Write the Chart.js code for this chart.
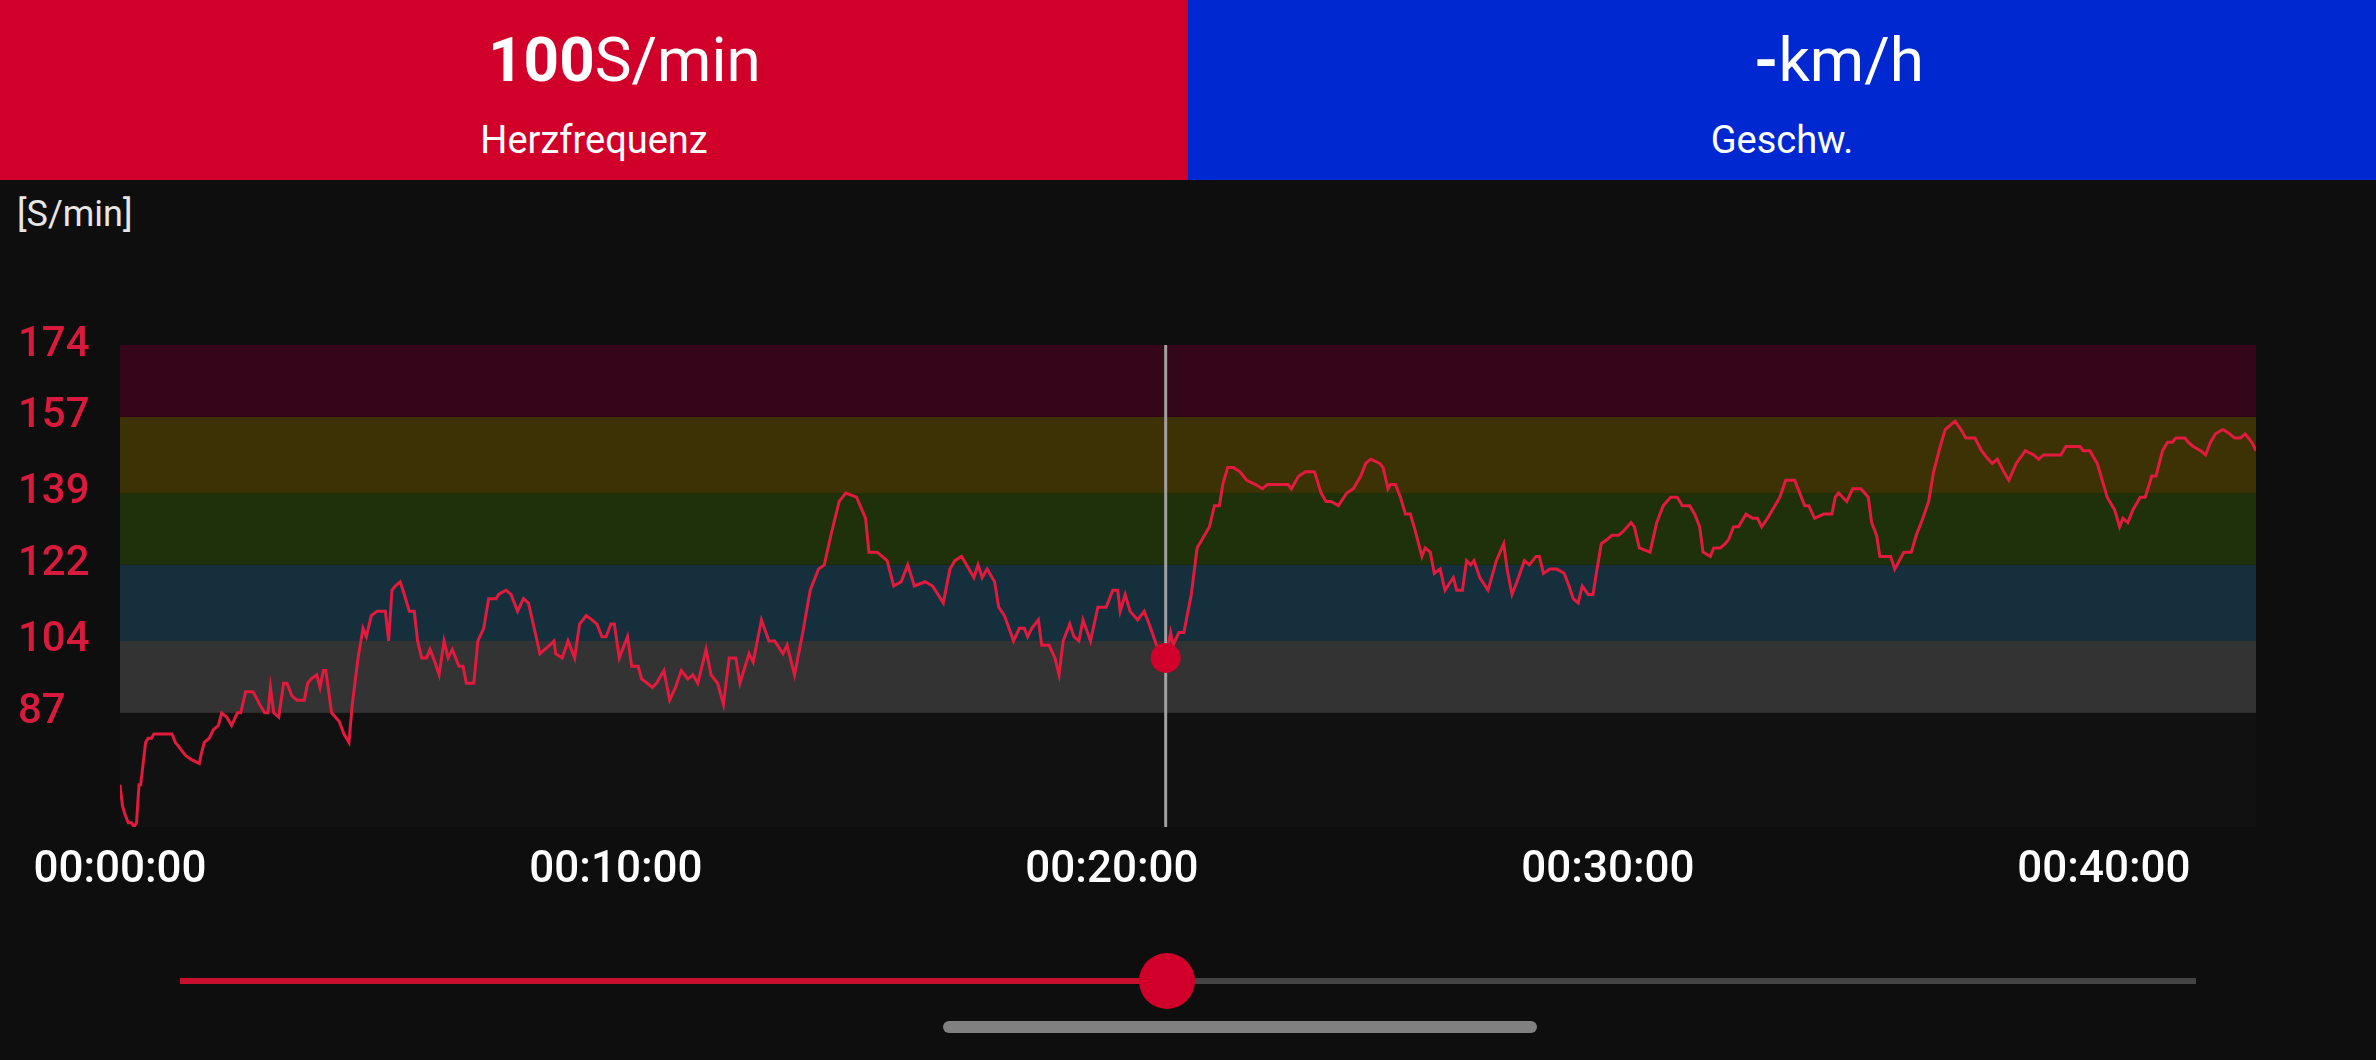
<!DOCTYPE html>
<html>
<head>
<meta charset="utf-8">
<title>Herzfrequenz</title>
<script src="https://cdn.jsdelivr.net/npm/chart.js@4.4.1/dist/chart.umd.min.js"></script>
<style>
  html, body { margin: 0; padding: 0; background: #0e0e0e; width: 2376px; height: 1060px; overflow: hidden; font-family: Roboto, "Noto Sans", sans-serif; }
  .panel { position: absolute; top: 0; height: 180px; width: 1188px; }
  #hr { left: 0; background: #d0002a; }
  #speed { left: 1188px; background: #0028d0; }
  .value { position: absolute; top: 29px; font-size: 62px; line-height: 62px; color: #fff; white-space: nowrap; }
  .value b { font-weight: 700; }
  .name { position: absolute; top: 121px; left: 0; width: 1188px; text-align: center; font-size: 38px; line-height: 38px; color: #fff; }
  #unit { position: absolute; left: 17px; top: 196px; font-size: 36px; line-height: 36px; color: #e6e6e6; }
  #wrap { position: absolute; left: 0; top: 300px; width: 2376px; height: 620px; }
  #track { position: absolute; top: 978px; height: 6px; left: 180px; width: 2016px; background: #444; }
  #done { position: absolute; top: 0; left: 0; height: 6px; background: #c8102e; }
  #knob { position: absolute; top: -25px; width: 56px; height: 56px; margin-left: -28px; border-radius: 50%; background: #d0002a; }
  #home { position: absolute; left: 943px; top: 1021px; width: 594px; height: 12px; border-radius: 6px; background: #808080; }
</style>
</head>
<body>
<div class="panel" id="hr">
  <div class="value" style="left:488px"><b>100</b>S/min</div>
  <div class="name">Herzfrequenz</div>
</div>
<div class="panel" id="speed">
  <div class="value" style="left:566px"><b>-</b>km/h</div>
  <div class="name">Geschw.</div>
</div>
<div id="unit">[S/min]</div>
<div id="wrap"><canvas id="myChart" width="2376" height="620"></canvas></div>
<div id="track"><div id="done"></div><div id="knob"></div></div>
<div id="home"></div>

<script>
// heart rate samples, time in seconds since start
const seconds = [
  0, 3, 6, 10, 14, 17, 20, 23, 25, 31,
  34, 38, 41, 63, 67, 71, 75, 79, 86, 96,
  98, 102, 108, 113, 119, 123, 129, 135, 142, 146,
  152, 161, 169, 175, 179, 182, 186, 192, 198, 202,
  208, 214, 223, 227, 231, 238, 242, 246, 249, 256,
  265, 271, 277, 281, 288, 294, 298, 304, 311, 321,
  325, 329, 333, 339, 344, 350, 356, 360, 365, 371,
  375, 381, 386, 392, 397, 402, 410, 415, 419, 428,
  433, 440, 446, 455, 458, 467, 473, 481, 488, 494,
  500, 508, 514, 520, 525, 527, 535, 542, 550, 556,
  564, 571, 577, 583, 588, 594, 598, 604, 614, 619,
  627, 631, 638, 644,
  649, 658, 665, 672, 679, 687, 693, 699, 709, 715,
  723, 730, 737, 745, 750, 761, 766, 776, 785, 792,
  802, 807, 816, 826, 835, 845, 852, 860, 870, 878,
  891, 902, 906, 916, 928, 936, 945, 953, 961, 974,
  983, 996, 1004, 1010, 1018, 1024, 1033, 1038, 1043, 1049,
  1058, 1063, 1070, 1081, 1088, 1094, 1098, 1103, 1111, 1115,
  1124, 1131, 1136, 1141, 1149, 1154, 1160, 1165, 1174, 1183,
  1193, 1201, 1207, 1210, 1216, 1222, 1231, 1239, 1245, 1254,
  1262, 1265, 1268, 1271, 1274, 1281, 1287, 1294,
  1296, 1303, 1309, 1318, 1324, 1330, 1334, 1340, 1347, 1355,
  1363, 1374, 1382, 1388, 1413, 1417, 1426, 1434, 1445, 1453,
  1459, 1465, 1474, 1484, 1492, 1501, 1507, 1513, 1524, 1528,
  1534, 1537, 1543, 1549, 1555, 1561, 1567, 1575, 1579, 1585,
  1590, 1597, 1603, 1613, 1617, 1624, 1629, 1634, 1638, 1645,
  1655, 1665, 1674, 1678, 1684, 1690, 1699, 1705, 1713, 1717,
  1722, 1730, 1738, 1747, 1753, 1758, 1764, 1769, 1776, 1782,
  1786, 1792, 1799, 1805, 1813, 1819, 1828, 1832, 1838, 1851,
  1859, 1867, 1876, 1884, 1890, 1899, 1905, 1911, 1915, 1924,
  1928, 1936,
  1942, 1946, 1952, 1958, 1967, 1975, 1981, 1986, 1993, 2002,
  2008, 2015, 2026, 2038, 2043, 2050, 2061, 2071, 2075, 2079,
  2089, 2096, 2106, 2115, 2119, 2125, 2129, 2142, 2147, 2158,
  2167, 2173, 2181, 2188, 2194, 2202, 2208, 2214, 2220, 2227,
  2233, 2244, 2252, 2260, 2265, 2271, 2279, 2285, 2294, 2305,
  2315, 2321, 2327, 2348, 2354, 2371, 2375, 2383, 2392, 2398,
  2404, 2413, 2419, 2423, 2429, 2435, 2444, 2450, 2458, 2463,
  2471, 2477, 2483, 2487, 2498, 2502, 2508, 2517, 2523, 2529,
  2535, 2544, 2552, 2558, 2565, 2571, 2579, 2584
];
const bpm = [
  70, 65, 63, 61, 61, 60, 61, 70, 70, 80,
  81, 81, 82, 82, 80, 79, 78, 77, 76, 75,
  77, 80, 81, 83, 84, 87, 86, 84, 87, 87,
  92, 92, 89, 87, 87, 93, 87, 86, 94, 94,
  91, 90, 90, 94, 95, 96, 93, 97, 97, 87,
  85, 82, 80, 89, 100, 107, 105, 110, 111, 111,
  104, 116, 117, 118, 115, 111, 111, 104, 100, 100,
  102, 99, 96, 104, 100, 102, 98, 98, 94, 94,
  104, 107, 114, 114, 115, 116, 115, 111, 114, 113,
  108, 101, 102, 103, 104, 101, 100, 104, 100, 108,
  110, 109, 108, 105, 105, 108, 108, 100, 105, 98,
  98, 95, 94, 93,
  94, 97, 90, 93, 97, 95, 96, 94, 102, 96,
  94, 89, 100, 100, 94, 101, 99, 109, 104, 104,
  101, 103, 96, 106, 116, 121, 122, 129, 137, 139,
  138, 133, 125, 125, 123, 117, 118, 122, 117, 118,
  117, 113, 121, 123, 124, 122, 119, 122, 119, 121,
  118, 112, 110, 104, 107, 107, 105, 107, 109, 103,
  103, 100, 96, 104, 108, 105, 104, 109, 104, 112,
  112, 116, 116, 111, 115, 111, 109, 111, 108, 103,
  101, 100, 103, 106, 103, 106, 106, 113,
  115, 126, 128, 131, 136, 136, 141, 145, 145, 144,
  142, 141, 140, 141, 141, 140, 143, 144, 144, 139,
  137, 137, 136, 139, 140, 143, 146, 147, 146, 145,
  140, 141, 141, 138, 134, 134, 130, 124, 126, 125,
  120, 121, 116, 119, 116, 116, 123, 122, 123, 119,
  116, 123, 127, 121, 115, 118, 123, 122, 124, 124,
  120, 121, 121, 120, 117, 114, 113, 117, 115, 115,
  120, 127, 128, 129, 129, 130, 132, 131, 126, 125,
  132, 136, 138, 138, 136, 136, 134, 131, 125, 124,
  126, 126,
  127, 128, 131, 131, 134, 133, 133, 131, 133, 136,
  138, 142, 142, 136, 136, 133, 134, 134, 138, 139,
  137, 140, 140, 138, 132, 129, 124, 124, 121, 125,
  125, 129, 133, 137, 144, 150, 154, 155, 156, 154,
  152, 152, 149, 147, 146, 147, 144, 142, 146, 149,
  148, 147, 148, 148, 150, 150, 149, 149, 146, 142,
  138, 135, 131, 133, 132, 135, 138, 138, 143, 143,
  149, 151, 151, 152, 152, 151, 150, 149, 148, 151,
  153, 154, 153, 152, 152, 153, 151, 149
];

const durationSec = 2584;
const cursorSec = 1265;
const cursorBpm = 100;

// heart rate zones and axis ticks
const zoneEdges = [60, 87, 104, 122, 139, 157, 174];
const zoneColors = ["#111111", "#333333", "#15303c", "#1e310b", "#3d3206", "#350519"];
const yTicks = [87, 104, 122, 139, 157, 174];
const xTicks = [0, 600, 1200, 1800, 2400];

const lineRed = "#e21a3d";
const dotRed = "#d3002b";

function hms(s) {
  const h = Math.floor(s / 3600), m = Math.floor(s / 60) % 60, sec = s % 60;
  return [h, m, sec].map(v => String(v).padStart(2, "0")).join(":");
}

const points = seconds.map((s, i) => ({ x: s, y: bpm[i] }));

const zones = {
  id: "zones",
  beforeDatasetsDraw(chart) {
    const { ctx, chartArea: a, scales: { x, y } } = chart;
    ctx.save();
    for (let i = 0; i < zoneColors.length; i++) {
      const top = y.getPixelForValue(zoneEdges[i + 1]);
      const bottom = y.getPixelForValue(zoneEdges[i]);
      ctx.fillStyle = zoneColors[i];
      ctx.fillRect(a.left, top, a.right - a.left, bottom - top);
    }
    // cursor line
    const cx = x.getPixelForValue(cursorSec);
    ctx.strokeStyle = "#a0a0a0";
    ctx.lineWidth = 3;
    ctx.beginPath();
    ctx.moveTo(cx, a.top);
    ctx.lineTo(cx, a.bottom);
    ctx.stroke();
    ctx.restore();
  }
};

const ctx = document.getElementById("myChart");

new Chart(ctx, {
  type: "line",
  data: {
    datasets: [
      {
        data: [{ x: cursorSec, y: cursorBpm }],
        showLine: false,
        pointRadius: 15,
        pointBackgroundColor: dotRed,
        pointBorderWidth: 0
      },
      {
        data: points,
        borderColor: lineRed,
        borderWidth: 3,
        pointRadius: 0,
        tension: 0,
        fill: false
      }
    ]
  },
  options: {
    responsive: false,
    devicePixelRatio: 1,
    animation: false,
    events: [],
    layout: { padding: { left: 18, top: 45, right: 120, bottom: 0 } },
    plugins: { legend: { display: false }, tooltip: { enabled: false } },
    scales: {
      x: {
        type: "linear",
        min: 0,
        max: durationSec,
        afterBuildTicks: s => { s.ticks = xTicks.map(v => ({ value: v })); },
        afterFit: s => { s.height = 93; },
        grid: { display: false },
        border: { display: false },
        ticks: {
          autoSkip: false,
          maxRotation: 0,
          padding: 10,
          color: "#ffffff",
          font: { family: "Roboto", size: 44, weight: "500" },
          callback: v => hms(v)
        }
      },
      y: {
        min: 60,
        max: 174,
        afterBuildTicks: s => { s.ticks = yTicks.map(v => ({ value: v })); },
        afterFit: s => { s.width = 102; },
        grid: { display: false },
        border: { display: false },
        ticks: {
          crossAlign: "far",
          padding: 0,
          color: "#d81b3c",
          font: { family: "Roboto", size: 42, weight: "500" }
        }
      }
    }
  },
  plugins: [zones]
});

// playback slider follows the cursor position
const frac = cursorSec / durationSec;
document.getElementById("done").style.width = (frac * 100) + "%";
document.getElementById("knob").style.left = (frac * 100) + "%";
</script>
</body>
</html>
